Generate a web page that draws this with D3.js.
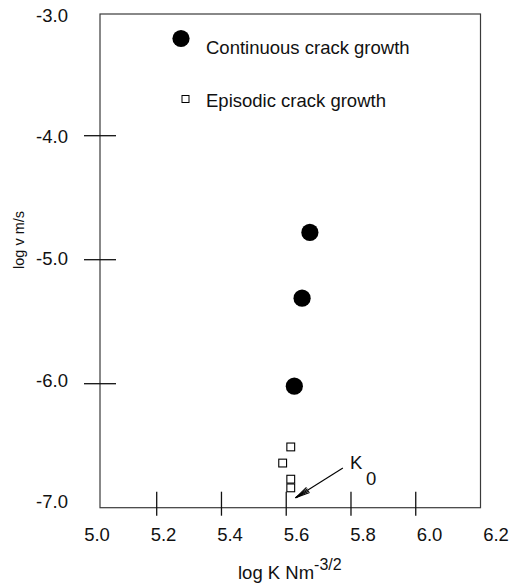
<!DOCTYPE html>
<html>
<head>
<meta charset="utf-8">
<script src="https://cdn.jsdelivr.net/npm/d3@7"></script>
<style>
  html, body { margin: 0; padding: 0; background: #fff; }
  svg { display: block; font-family: "Liberation Sans", Arial, Helvetica, sans-serif; }
</style>
</head>
<body>
<svg id="chart" width="513" height="586"></svg>
<script>
// Crack velocity (log v, m/s) against stress intensity (log K, N m^-3/2)
const continuousK = [5.673, 5.649, 5.625];
const continuousV = [-4.78, -5.31, -6.02];

const episodicK = [5.614, 5.589, 5.614, 5.614];
const episodicV = [-6.51, -6.64, -6.77, -6.84];

const xTickValues = [5.0, 5.2, 5.4, 5.6, 5.8, 6.0, 6.2];
const xTickLabels = ["5.0", "5.2", "5.4", "5.6", "5.8", "6.0", "6.2"];
const yTickValues = [-3, -4, -5, -6, -7];
const yTickLabels = ["-3.0", "-4.0", "-5.0", "-6.0", "-7.0"];

const legendLabels = ["Continuous crack growth", "Episodic crack growth"];

// K0 marker: arrow from the label down to the threshold point
const k0Tip = { k: 5.629, v: -6.92 };
const k0Tail = { k: 5.775, v: -6.68 };

const svg = d3.select("#chart");

const x = d3.scaleLinear().domain([5.0, 6.2]).range([91.95, 480.5]);
const y = d3.scaleLinear().domain([-7, -3]).range([507.7, 11.7]);
// tick labels sit on their own, slightly wider spacing
const xLab = d3.scaleLinear().domain([5.0, 6.2]).range([97, 496]);
const yLab = d3.scaleLinear().domain([-7, -3]).range([501.5, 15]);

const frame = { left: 100, right: 480.5, top: 14, bottom: 507.7 };

// plot frame
svg.append("rect")
  .attr("x", frame.left).attr("y", frame.top)
  .attr("width", frame.right - frame.left)
  .attr("height", frame.bottom - frame.top)
  .attr("fill", "none").attr("stroke", "#3a3a3a").attr("stroke-width", 1.2);

// x ticks crossing the bottom edge
svg.append("g").selectAll("line")
  .data(xTickValues.filter(v => v > 5.0 && v < 6.2))
  .join("line")
  .attr("x1", d => x(d)).attr("x2", d => x(d))
  .attr("y1", frame.bottom - 16).attr("y2", frame.bottom + 8)
  .attr("stroke", "#111").attr("stroke-width", 1.3);

svg.append("g").selectAll("text")
  .data(xTickValues)
  .join("text")
  .attr("x", d => xLab(d)).attr("y", 541)
  .attr("text-anchor", "middle")
  .attr("font-size", 18.5)
  .attr("fill", "#111")
  .text((d, i) => xTickLabels[i]);

// y ticks crossing the left edge
svg.append("g").selectAll("line")
  .data(yTickValues.filter(v => v > -7 && v < -3))
  .join("line")
  .attr("x1", frame.left - 16).attr("x2", frame.left + 16)
  .attr("y1", d => y(d)).attr("y2", d => y(d))
  .attr("stroke", "#111").attr("stroke-width", 1.3);

svg.append("g").selectAll("text")
  .data(yTickValues)
  .join("text")
  .attr("x", 68).attr("y", d => yLab(d))
  .attr("dy", "0.36em")
  .attr("text-anchor", "end")
  .attr("font-size", 18.5)
  .attr("fill", "#111")
  .text((d, i) => yTickLabels[i]);

// axis titles
const xTitle = svg.append("text")
  .attr("x", 238).attr("y", 579)
  .attr("font-size", 18.5).attr("fill", "#111");
xTitle.append("tspan").text("log K Nm");
xTitle.append("tspan").attr("dy", -9).attr("font-size", 16).text("-3/2");

svg.append("text")
  .attr("transform", "translate(23.5,240) rotate(-90)")
  .attr("text-anchor", "middle")
  .attr("font-size", 14.5).attr("fill", "#111")
  .text("log v m/s");

// continuous crack growth: filled circles
svg.append("g").selectAll("circle")
  .data(d3.zip(continuousK, continuousV))
  .join("circle")
  .attr("cx", d => x(d[0])).attr("cy", d => y(d[1]))
  .attr("r", 8.6).attr("fill", "#000");

// episodic crack growth: open squares
const sq = 7.8;
svg.append("g").selectAll("rect")
  .data(d3.zip(episodicK, episodicV))
  .join("rect")
  .attr("x", d => x(d[0]) - sq / 2).attr("y", d => y(d[1]) - sq / 2)
  .attr("width", sq).attr("height", sq)
  .attr("fill", "#fff").attr("stroke", "#000").attr("stroke-width", 1.1);

// legend
const legend = svg.append("g");
legend.append("circle").attr("cx", 181).attr("cy", 38.5).attr("r", 8.6).attr("fill", "#000");
legend.append("rect").attr("x", 182).attr("y", 95.5).attr("width", 7).attr("height", 7)
  .attr("fill", "#fff").attr("stroke", "#000").attr("stroke-width", 1);
legend.selectAll("text.leg")
  .data(legendLabels)
  .join("text")
  .attr("class", "leg")
  .attr("x", 206).attr("y", (d, i) => i === 0 ? 54 : 107)
  .attr("font-size", 18.5).attr("fill", "#111")
  .text(d => d);

// K0 annotation arrow
const tx = x(k0Tip.k), ty = y(k0Tip.v);
const sx = x(k0Tail.k), sy = y(k0Tail.v);
const ang = Math.atan2(sy - ty, sx - tx);
const headLen = 15;
const arrow = svg.append("g").attr("stroke", "#000").attr("stroke-width", 1.1).attr("fill", "none");
arrow.append("line").attr("x1", sx).attr("y1", sy).attr("x2", tx).attr("y2", ty);
[-0.2, -0.1, 0.1, 0.2].forEach(da => {
  arrow.append("line")
    .attr("x1", tx).attr("y1", ty)
    .attr("x2", tx + headLen * Math.cos(ang + da))
    .attr("y2", ty + headLen * Math.sin(ang + da));
});

svg.append("text").attr("x", sx + 7).attr("y", sy + 0.5)
  .attr("font-size", 18.5).attr("fill", "#111").text("K");
svg.append("text").attr("x", sx + 23).attr("y", sy + 16.5)
  .attr("font-size", 18.5).attr("fill", "#111").text("0");
</script>
</body>
</html>
